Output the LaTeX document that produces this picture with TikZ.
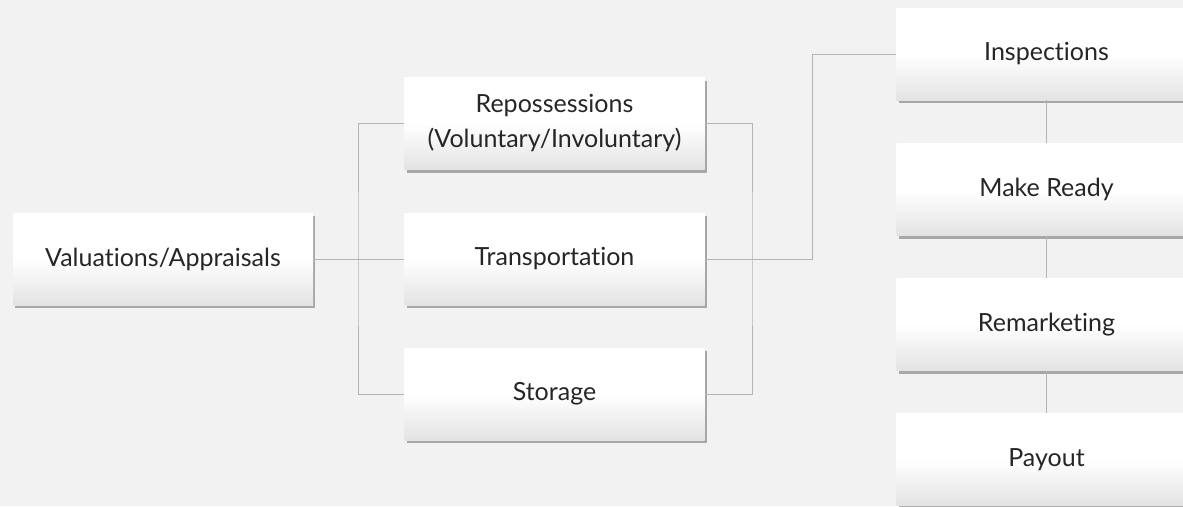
\documentclass[tikz,border=0pt]{standalone}
\usepackage{fontspec}
\setmainfont{Lato}[Ligatures={NoCommon}]
\usetikzlibrary{shadows}
\definecolor{bg}{HTML}{F2F2F2}
\definecolor{linec}{HTML}{B4B4B4}
\tikzset{
  box/.style={rectangle, minimum width=300pt, minimum height=92pt, inner sep=0pt,
    top color=white, bottom color=black!11, middle color=white,
    shading angle=0, align=center, font=\fontsize{25}{35}\selectfont, text=black!85,
    drop shadow={shadow xshift=2pt, shadow yshift=-3pt, opacity=0.45, fill=black!70}},
  conn/.style={draw=linec, line width=1pt}
}
\begin{document}
\begin{tikzpicture}[x=1pt,y=-1pt]
\fill[bg] (0,0) rectangle (1183,506);
\begin{scope}
\clip (0,0) rectangle (1183,506);
\node[box] (val) at (163,259) {Valuations/Appraisals};
\node[box] (rep) at (554.5,123.5) {Repossessions\\(Voluntary/Involuntary)};
\node[box] (tra) at (554.5,259) {Transportation};
\node[box] (sto) at (554.5,394) {Storage};
\node[box] (ins) at (1046.5,54) {Inspections};
\node[box] (mak) at (1046.5,189.5) {Make Ready};
\node[box] (rem) at (1046.5,324.5) {Remarketing};
\node[box] (pay) at (1046.5,459.5) {Payout};
\end{scope}
\coordinate (jl) at (358,259);
\coordinate (jr) at (752,259);
\coordinate (jt) at (812,259);
\draw[conn] (val.east) -- (tra.west);
\draw[conn] (rep.west) -| (jl) |- (sto.west);
\draw[conn] (rep.east) -| (jr) |- (sto.east);
\draw[conn] (tra.east) -- (jt) |- (ins.west);
\draw[conn] (ins.south) -- (mak.north);
\draw[conn] (mak.south) -- (rem.north);
\draw[conn] (rem.south) -- (pay.north);
\end{tikzpicture}
\end{document}
